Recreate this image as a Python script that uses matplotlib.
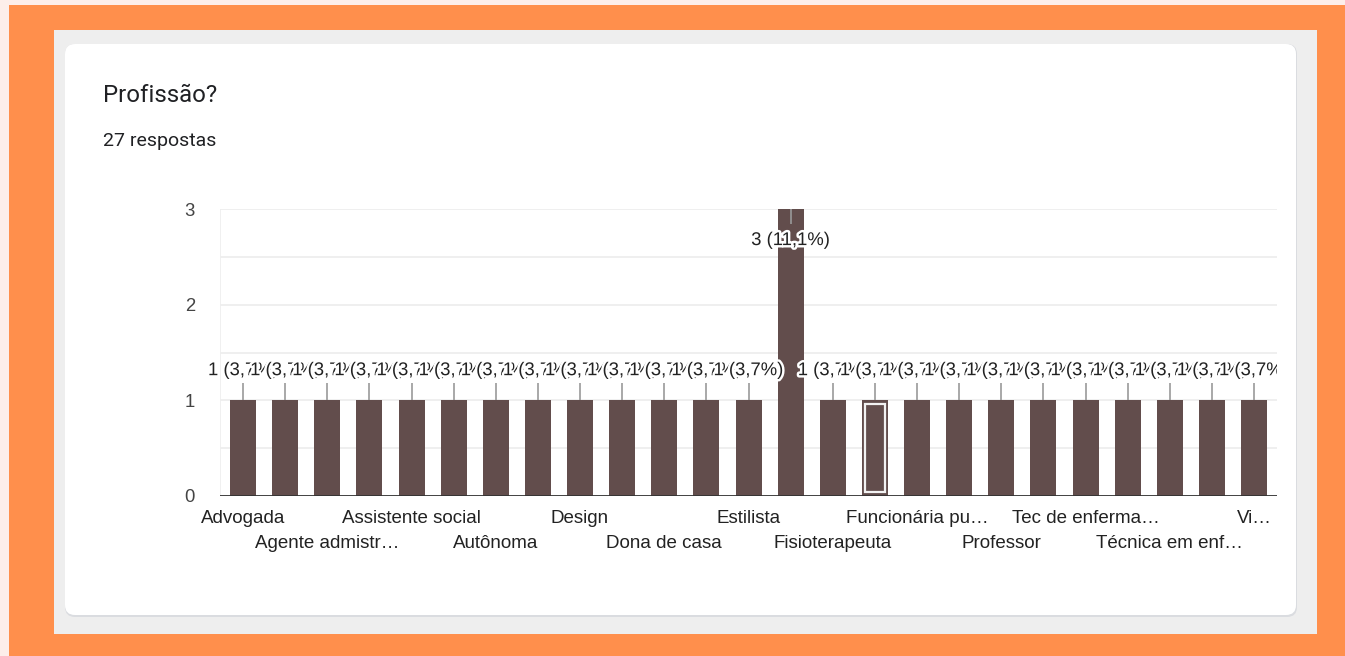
import matplotlib
matplotlib.use("Agg")
import matplotlib.pyplot as plt
from matplotlib.patches import Rectangle, FancyBboxPatch
from matplotlib.transforms import Bbox, TransformedBbox
import matplotlib.patheffects as pe

# ---------------- data ----------------
title = "Profissão?"
subtitle = "27 respostas"
categories = [
    "Advogada", "Advogado", "Agente admistr…", "Aposentada", "Assistente social",
    "Atendente", "Autônoma", "Comerciante", "Design", "Do lar", "Dona de casa",
    "Enfermeira", "Estilista", "Estudante", "Fisioterapeuta", "Fotógrafa",
    "Funcionária pu…", "Pedagoga", "Professor", "Professora", "Tec de enferma…",
    "Tecnica de enf…", "Técnica em enf…", "Vendedora", "Vi…",
]
counts = [1, 1, 1, 1, 1, 1, 1, 1, 1, 1, 1, 1, 1, 3, 1, 1, 1, 1, 1, 1, 1, 1, 1, 1, 1]
percent_labels = ["3,7%"] * 13 + ["11,1%"] + ["3,7%"] * 11
yticks = [0, 1, 2, 3]
highlight_index = 15

# ---------------- figure ----------------
W, H = 1345, 656
fig = plt.figure(figsize=(W / 100, H / 100), dpi=100)
fig.patch.set_facecolor("#FF8F4C")

def fx(x):
    return x / W

def fy(y):
    return 1 - y / H

# pale strips at top/left
fig.patches.append(Rectangle((0, fy(5)), 1, 5 / H, transform=fig.transFigure,
                             facecolor="#FDEEEA", edgecolor="none", zorder=0))
fig.patches.append(Rectangle((0, 0), fx(9), 1, transform=fig.transFigure,
                             facecolor="#FDEEEA", edgecolor="none", zorder=0))
# gray panel
fig.patches.append(Rectangle((fx(54), fy(634)), fx(1317 - 54), (634 - 30) / H,
                             transform=fig.transFigure, facecolor="#EEEEEE",
                             edgecolor="none", zorder=1))
# card shadow + card
r = 10
fig.patches.append(FancyBboxPatch((65 + r, H - 617 + r), 1297 - 65 - 2 * r, 617 - 44 - 2 * r,
                                  boxstyle=f"round,pad={r}", transform=None,
                                  facecolor="#DADCE0", edgecolor="none", zorder=2))
fig.patches.append(FancyBboxPatch((65 + r, H - 615 + r), 1296 - 65 - 2 * r, 615 - 44 - 2 * r,
                                  boxstyle=f"round,pad={r}", transform=None,
                                  facecolor="white", edgecolor="none", zorder=3))

fig.text(fx(103), fy(96), title, fontsize=17.3, family="Roboto", color="#202124",
         va="center", ha="left", zorder=5)
fig.text(fx(103), fy(141), subtitle, fontsize=14.0, family="Roboto", color="#202124",
         va="center", ha="left", zorder=5)

# ---------------- axes ----------------
ax_l, ax_r, ax_t, ax_b = 220, 1277, 209, 496
ax = fig.add_axes([fx(ax_l), fy(ax_b), fx(ax_r - ax_l), (ax_b - ax_t) / H])
ax.set_zorder(6)
ax.patch.set_alpha(0)
n = len(categories)
step = (1254 - 243) / 24
ax.set_xlim(-(243 - ax_l) / step, 24 + (ax_r - 1254) / step)
ax.set_ylim(0, 3)

x = list(range(n))
ax.bar(x, counts, width=26 / step, color="#624D4C", zorder=3)

# hover highlight
hi = highlight_index
ax.bar(hi, 0.92, bottom=0.04, width=19.5 / step, fill=False,
       edgecolor="#F2F2F2", linewidth=1.6, zorder=4)

# gridlines
for g in [0.5, 1, 1.5, 2, 2.5, 3]:
    ax.axhline(g, color="#EBEBEB", linewidth=1.1, zorder=1)
ax.axhline(0, color="#333333", linewidth=1.3, zorder=5)
ax.axvline(ax.get_xlim()[0], color="#EEEEEE", linewidth=1.2, zorder=1)

for s in ax.spines.values():
    s.set_visible(False)
ax.set_xticks([])
ax.set_yticks(yticks)
ax.set_yticklabels([str(t) for t in yticks], fontsize=13.3, family="Liberation Sans",
                   color="#444444")
ax.tick_params(axis="y", length=0, pad=18)

# annotations
clip = TransformedBbox(Bbox([[-5, -1], [ax.get_xlim()[1], 4]]), ax.transData)
for i, (c, p) in enumerate(zip(counts, percent_labels)):
    if c >= 3:
        y0, y1, ty = 3, 2.84, 2.67
    else:
        y0, y1, ty = c, c + 0.18, c + 0.31
    ax.plot([i, i], [y0, y1], color="#999999", linewidth=1.2, zorder=6 + i * 0.01,
            solid_capstyle="butt")
    t = ax.text(i, ty, f"{c} ({p})", ha="center", va="center", fontsize=13.3,
                family="Liberation Sans", color="#222222", zorder=7 + i * 0.01,
                path_effects=[pe.withStroke(linewidth=3.5, foreground="white")])
    t.set_clip_on(True)
    t.set_clip_box(clip)

# category labels, every other, two alternating rows
xt = ax.get_xaxis_transform()
for k, i in enumerate(range(0, n, 2)):
    yy = -0.0767 if k % 2 == 0 else -0.167
    ax.text(i, yy, categories[i], transform=xt, ha="center", va="center",
            fontsize=13.5, family="Liberation Sans", color="#222222", clip_on=False)

fig.savefig("out.png", dpi=100, facecolor=fig.get_facecolor())
